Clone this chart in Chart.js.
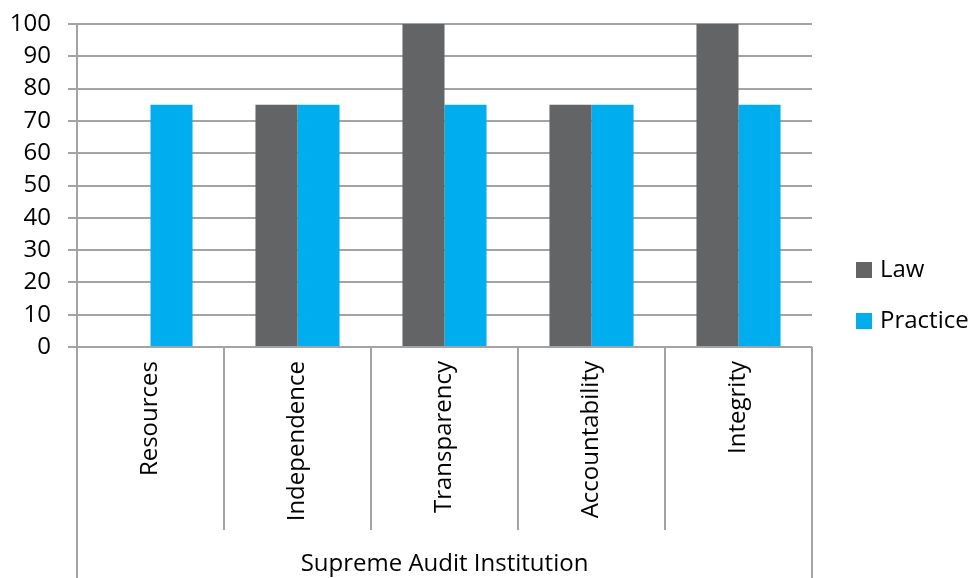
<!DOCTYPE html>
<html>
<head>
<meta charset="utf-8">
<script src="https://cdn.jsdelivr.net/npm/chart.js@4.4.0/dist/chart.umd.min.js"></script>
<style>
  html, body { margin: 0; padding: 0; background: #fff; }
  #wrap { width: 970px; height: 578px; }
</style>
</head>
<body>
<div id="wrap"><canvas id="chart" width="970" height="578"></canvas></div>
<script>
// chart data
const categories = ['Resources', 'Independence', 'Transparency', 'Accountability', 'Integrity'];
const lawValues = [0, 75, 100, 75, 100];
const practiceValues = [75, 75, 75, 75, 75];
const groupLabel = 'Supreme Audit Institution';
const yMin = 0;
const yMax = 100;
const yStep = 10;

const FONT = "'Open Sans', 'DejaVu Sans', sans-serif";
const FONT_SIZE = 24;
const gridColor = '#a3a3a3';

// separators below the axis, group label and legend
const extrasPlugin = {
    id: 'extras',
    afterDraw(chart) {
        const ctx = chart.ctx;
        const area = chart.chartArea;
        const n = categories.length;
        const step = area.width / n;

        ctx.save();
        ctx.strokeStyle = gridColor;
        ctx.lineWidth = 2;
        for (let i = 0; i <= n; i++) {
            const x = Math.round(area.left + i * step);
            const outer = i === 0 || i === n;
            ctx.beginPath();
            ctx.moveTo(x, area.bottom);
            ctx.lineTo(x, outer ? 578 : 530);
            ctx.stroke();
        }

        ctx.fillStyle = '#000';
        ctx.font = FONT_SIZE + 'px ' + FONT;
        ctx.textAlign = 'center';
        ctx.textBaseline = 'middle';
        ctx.fillText(groupLabel, (area.left + area.right) / 2, 564);

        // legend
        ctx.textAlign = 'left';
        const rows = [270, 321];
        chart.data.datasets.forEach((ds, i) => {
            ctx.fillStyle = ds.backgroundColor;
            ctx.fillRect(856, rows[i] - 8, 16, 16);
            ctx.fillStyle = '#000';
            ctx.fillText(ds.label, 880, rows[i]);
        });
        ctx.restore();
    }
};

new Chart(document.getElementById('chart'), {
    type: 'bar',
    data: {
        labels: categories,
        datasets: [
            {
                label: 'Law',
                data: lawValues,
                backgroundColor: '#636466',
                categoryPercentage: 0.572,
                barPercentage: 1,
            },
            {
                label: 'Practice',
                data: practiceValues,
                backgroundColor: '#00aeef',
                categoryPercentage: 0.572,
                barPercentage: 1,
            },
        ],
    },
    options: {
        responsive: false,
        animation: false,
        devicePixelRatio: 1,
        layout: { padding: { top: 24, right: 158, left: 0, bottom: 0 } },
        plugins: {
            legend: { display: false },
            tooltip: { enabled: false },
        },
        scales: {
            x: {
                grid: { display: false, drawTicks: false },
                border: { display: false },
                ticks: {
                    color: '#000',
                    font: { family: FONT, size: FONT_SIZE },
                    minRotation: 90,
                    maxRotation: 90,
                    autoSkip: false,
                    padding: 14,
                },
                afterFit(scale) {
                    scale.height = 231;
                    scale.paddingLeft = 0;
                    scale.paddingRight = 0;
                },
            },
            y: {
                min: yMin,
                max: yMax,
                grid: { color: gridColor, lineWidth: 2, tickLength: 9 },
                border: { color: gridColor, width: 2 },
                ticks: {
                    stepSize: yStep,
                    autoSkip: false,
                    color: '#000',
                    font: { family: FONT, size: FONT_SIZE },
                    padding: 17,
                },
                afterFit(scale) {
                    scale.width = 77;
                    scale.paddingTop = 0;
                    scale.paddingBottom = 0;
                },
            },
        },
    },
    plugins: [extrasPlugin],
});
</script>
</body>
</html>
